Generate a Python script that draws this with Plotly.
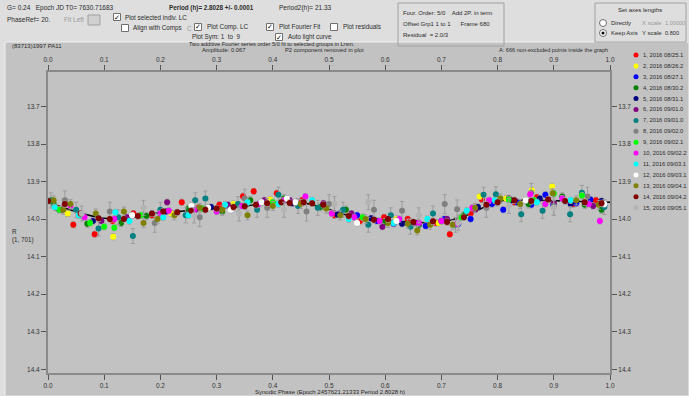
import plotly.graph_objects as go

W, H = 689, 396

# ---------------- data ----------------
series_names = ["1, 2016 08/25.1", "2, 2016 08/26.2", "3, 2016 08/27.1", "4, 2016 08/30.2",
                "5, 2016 08/31.1", "6, 2016 09/01.0", "7, 2016 09/01.0", "8, 2016 09/02.0",
                "9, 2016 09/02.1", "10, 2016 09/02.2", "11, 2016 09/03.1", "12, 2016 09/03.1",
                "13, 2016 09/04.1", "14, 2016 09/04.2", "15, 2016 09/05.1"]
series_colors = ["#ff0000", "#ffff00", "#0000ff", "#008000", "#000080", "#800080", "#008080",
                 "#808080", "#00ff00", "#ff00ff", "#00ffff", "#ffffff", "#808000", "#800000",
                 "#b4b4b4"]
series_err = [0.008, 0.008, 0.008, 0.010, 0.008, 0.008, 0.020, 0.025, 0.008, 0.008, 0.008,
              0.008, 0.012, 0.008, 0.020]

phase_1 = [0.015, 0.045, 0.083, 0.115, 0.152, 0.185, 0.238, 0.268, 0.305, 0.347, 0.366, 0.407,
           0.452, 0.51, 0.555, 0.598, 0.64, 0.69, 0.715, 0.752, 0.772, 0.83, 0.87, 0.935, 0.975]
mag_1 = [13.970, 14.015, 14.040, 14.005, 13.985, 13.990, 13.955, 13.970, 13.962, 13.939, 13.926,
         13.931, 13.950, 13.990, 14.005, 13.995, 14.000, 14.010, 14.040, 13.985, 13.948, 13.955,
         13.942, 13.960, 13.950]

phase_2 = [0.035, 0.116, 0.22, 0.33, 0.395, 0.47, 0.56, 0.62, 0.695, 0.768, 0.815, 0.861, 0.897, 0.96]
mag_2 = [13.985, 14.047, 13.985, 13.960, 13.948, 13.957, 13.995, 14.000, 14.010, 13.940, 13.945,
         13.923, 13.913, 13.945]

phase_3 = [0.52, 0.55, 0.585, 0.615, 0.65, 0.672, 0.705, 0.73, 0.752, 0.79, 0.81, 0.835, 0.86,
           0.885, 0.899, 0.94, 0.965, 0.99, 0.02]
mag_3 = [13.985, 13.990, 14.005, 14.012, 14.010, 14.018, 14.000, 14.012, 14.000, 13.960, 13.975,
         13.955, 13.962, 13.935, 13.962, 13.958, 13.948, 13.962, 13.975]

phase_4 = [0.01, 0.07, 0.13, 0.175, 0.25, 0.31, 0.36, 0.42, 0.485, 0.53, 0.6, 0.66, 0.74, 0.8,
           0.855, 0.915, 0.955, 0.985]
mag_4 = [13.960, 14.012, 14.010, 13.992, 13.972, 13.980, 13.950, 13.945, 13.968, 13.975, 14.008,
         14.015, 13.990, 13.955, 13.960, 13.940, 13.962, 13.975]

phase_5 = [0.08, 0.21, 0.29, 0.435, 0.515, 0.575, 0.63, 0.7, 0.765, 0.825, 0.875, 0.93, 0.985]
mag_5 = [14.005, 13.980, 13.968, 13.958, 13.988, 13.998, 14.012, 14.005, 13.968, 13.950, 13.945,
         13.960, 13.952]

phase_6 = [0.025, 0.06, 0.095, 0.14, 0.212, 0.262, 0.32, 0.385, 0.43, 0.49, 0.54, 0.595, 0.655,
           0.71, 0.76, 0.82, 0.9, 0.97]
mag_6 = [13.975, 13.990, 14.005, 13.995, 13.955, 13.975, 13.962, 13.950, 13.950, 13.958, 13.985,
         14.020, 14.010, 14.000, 13.975, 13.945, 13.958, 13.965]

phase_7 = [0.005, 0.05, 0.09, 0.125, 0.151, 0.2, 0.245, 0.262, 0.28, 0.338, 0.372, 0.41, 0.445,
           0.48, 0.525, 0.57, 0.61, 0.645, 0.685, 0.725, 0.775, 0.797, 0.842, 0.88, 0.929, 0.95, 0.99]
mag_7 = [13.950, 13.975, 14.025, 13.995, 14.045, 13.975, 13.990, 13.950, 13.945, 13.960, 13.975,
         13.935, 13.965, 13.970, 13.975, 14.015, 13.990, 14.020, 13.985, 14.015, 13.935, 13.934,
         13.987, 13.978, 13.987, 13.930, 13.968]

phase_8 = [0.03, 0.11, 0.19, 0.27, 0.35, 0.39, 0.46, 0.5, 0.58, 0.63, 0.706, 0.728, 0.78, 0.86,
           0.9, 0.96]
mag_8 = [13.950, 13.980, 14.010, 13.995, 13.945, 13.970, 13.980, 13.960, 13.975, 13.978, 13.960,
         13.974, 13.970, 13.930, 13.965, 13.940]

phase_9 = [0.02, 0.075, 0.1, 0.118, 0.165, 0.275, 0.4, 0.56, 0.735, 0.82, 0.865, 0.9, 0.95]
mag_9 = [13.975, 14.010, 14.020, 14.023, 13.990, 13.972, 13.955, 13.995, 13.995, 13.948, 13.950,
         13.932, 13.937]

phase_10 = [0.04, 0.065, 0.118, 0.2, 0.215, 0.26, 0.3, 0.345, 0.375, 0.42, 0.458, 0.505, 0.545,
            0.59, 0.625, 0.66, 0.7, 0.728, 0.755, 0.785, 0.858, 0.885, 0.915, 0.962, 0.982]
mag_10 = [13.965, 13.995, 14.000, 13.985, 13.978, 13.975, 13.980, 13.965, 13.960, 13.950, 13.940,
          13.985, 13.995, 14.005, 14.000, 14.010, 14.005, 14.012, 13.970, 13.950, 13.934, 13.960,
          13.945, 13.960, 14.005]

phase_11 = [0.012, 0.055, 0.12, 0.145, 0.205, 0.25, 0.315, 0.355, 0.41, 0.47, 0.535, 0.615, 0.675,
            0.745, 0.795, 0.87, 0.93]
mag_11 = [13.968, 13.990, 13.982, 14.005, 13.995, 13.990, 13.962, 13.955, 13.960, 13.950, 14.000,
          14.010, 14.000, 13.978, 13.950, 13.955, 13.950]

phase_12 = [0.15, 0.255, 0.285, 0.325, 0.38, 0.425, 0.44, 0.55, 0.62, 0.85, 0.99]
mag_12 = [13.990, 13.965, 13.970, 13.975, 13.955, 13.945, 13.955, 14.010, 14.005, 13.950, 13.960]

phase_13 = [0.01, 0.027, 0.04, 0.085, 0.135, 0.17, 0.195, 0.225, 0.27, 0.31, 0.355, 0.4, 0.45,
            0.495, 0.52, 0.565, 0.605, 0.64, 0.657, 0.68, 0.72, 0.76, 0.805, 0.84, 0.898, 0.94, 0.98]
mag_13 = [13.950, 13.975, 13.960, 13.985, 13.980, 14.010, 14.000, 13.990, 13.970, 13.975, 13.990,
          13.965, 13.960, 13.972, 13.990, 14.000, 14.010, 14.012, 14.030, 14.015, 14.015, 13.970,
          13.945, 13.960, 13.931, 13.950, 13.962]

phase_14 = [0.0, 0.03, 0.058, 0.09, 0.11, 0.135, 0.16, 0.185, 0.205, 0.23, 0.255, 0.28, 0.3, 0.33,
            0.35, 0.37, 0.39, 0.415, 0.43, 0.455, 0.47, 0.49, 0.535, 0.58, 0.605, 0.65, 0.685,
            0.71, 0.74, 0.78, 0.8, 0.83, 0.86, 0.89, 0.92, 0.955, 0.985]
mag_14 = [13.952, 13.960, 13.985, 13.998, 14.000, 14.000, 13.992, 13.985, 13.980, 13.982, 13.978,
          13.975, 13.972, 13.968, 13.966, 13.962, 13.958, 13.955, 13.957, 13.955, 13.958, 13.962,
          13.992, 14.002, 14.000, 14.008, 14.006, 14.008, 13.995, 13.962, 13.955, 13.950, 13.952,
          13.948, 13.952, 13.955, 13.958]

phase_15 = [0.06, 0.17, 0.26, 0.34, 0.42, 0.51, 0.57, 0.66, 0.73, 0.82, 0.9]
mag_15 = [13.985, 13.970, 13.990, 13.985, 13.975, 13.960, 13.955, 13.990, 14.010, 13.965, 13.970]

series_phase = [phase_1, phase_2, phase_3, phase_4, phase_5, phase_6, phase_7, phase_8,
                phase_9, phase_10, phase_11, phase_12, phase_13, phase_14, phase_15]
series_mag = [mag_1, mag_2, mag_3, mag_4, mag_5, mag_6, mag_7, mag_8,
              mag_9, mag_10, mag_11, mag_12, mag_13, mag_14, mag_15]

fit_phase = [0.00, 0.05, 0.10, 0.15, 0.20, 0.25, 0.30, 0.35, 0.40, 0.45, 0.50,
             0.55, 0.60, 0.65, 0.70, 0.75, 0.80, 0.85, 0.90, 0.95, 1.00]
fit_mag = [13.955, 13.980, 13.998, 13.995, 13.983, 13.978, 13.972, 13.965, 13.956, 13.956, 13.974,
           13.997, 14.004, 14.008, 14.008, 13.987, 13.953, 13.949, 13.951, 13.953, 13.955]

x_ticks = [0.0, 0.1, 0.2, 0.3, 0.4, 0.5, 0.6, 0.7, 0.8, 0.9, 1.0]
y_ticks = [13.7, 13.8, 13.9, 14.0, 14.1, 14.2, 14.3, 14.4]

# ---------------- layout helpers ----------------
X0, X1, Y0, Y1 = 48, 610, 72, 373
MAG_TOP, MAG_BOT = 13.608, 14.41
FONT = "Liberation Sans, Arial, sans-serif"
TXT = "#2a2a2a"
GREY_TXT = "#9a9a9a"


def fx(x):
    return x / W


def fy(y):
    return 1 - y / H


annotations = []
shapes = []


def txt(x, y, s, size=6, color=TXT, anchor="left"):
    annotations.append(dict(x=fx(x), y=fy(y), xref="paper", yref="paper", text=s,
                            showarrow=False, xanchor=anchor, yanchor="middle",
                            font=dict(family=FONT, size=size, color=color)))


def rect(x0, y0, x1, y1, fill=None, line="#9a9a9a", lw=1, layer="above"):
    shapes.append(dict(type="rect", xref="paper", yref="paper", x0=fx(x0), y0=fy(y0),
                       x1=fx(x1), y1=fy(y1), fillcolor=fill if fill else "rgba(0,0,0,0)",
                       line=dict(color=line, width=lw), layer=layer))


def checkbox(x, y, checked=True):
    rect(x - 3.5, y - 3.5, x + 3.5, y + 3.5, fill="#ffffff", line="#707070")
    if checked:
        txt(x, y, "✓", size=7, color="#000000", anchor="center")


def radio(x, y, checked=False):
    shapes.append(dict(type="circle", xref="paper", yref="paper", x0=fx(x - 3.5), y0=fy(y - 3.5),
                       x1=fx(x + 3.5), y1=fy(y + 3.5), fillcolor="#ffffff",
                       line=dict(color="#707070", width=1)))
    if checked:
        shapes.append(dict(type="circle", xref="paper", yref="paper", x0=fx(x - 1.5),
                           y0=fy(y - 1.5), x1=fx(x + 1.5), y1=fy(y + 1.5), fillcolor="#000000",
                           line=dict(width=0)))


# panel backgrounds
rect(5, 42, 689, 396, fill="#c2c2c2", line="#f0f0f0", lw=1, layer="below")

# ---- top control area ----
txt(5, 8, "G= 0.24   Epoch JD T0= 7630.71683", size=6.5)
txt(167, 8, "<b>Period (h)= 2.8028 +/- 0.0001</b>", size=6.3)
txt(277, 8, "Period2(h)= 21.33", size=6.5)
txt(5, 20, "PhaseRef= 20.", size=6.5)
txt(62, 20, "Fit Left", size=6.5, color=GREY_TXT)
rect(88, 15, 100, 25, fill="#d0d0d0", line="#a0a0a0")
checkbox(117, 17, True)
txt(123, 17, "Plot selected indiv. LC", size=6.3)
checkbox(125, 28, False)
txt(131, 28, "Align with Comps", size=6.3)
txt(185, 28, "C", size=6.3, color=GREY_TXT)
checkbox(198, 27, True)
txt(205, 27, "Plot Comp. LC", size=6.3)
txt(190, 37, "Plot Sym: 1  to  9", size=6.3)
checkbox(270, 27, True)
txt(277, 27, "Plot Fourier Fit", size=6.3)
checkbox(279, 37, True)
txt(286, 37, "Auto light curve", size=6.3)
checkbox(334, 27, False)
txt(341, 27, "Plot residuals", size=6.3)

rect(398, 3, 504, 46, line="#a0a0a0")
txt(401, 13, "Four. Order: 5/0    Add 2P. in term", size=6)
txt(401, 24, "Offset Grp1 1 to 1      Frame 680", size=6)
txt(401, 35, "Residual  = 2.0/3", size=6)

rect(595, 3, 686, 42, line="#a0a0a0")
txt(640, 10, "Set axes lengths", size=6, anchor="center")
radio(603, 23, False)
txt(609, 23, "Directly", size=6)
txt(640, 23, "X scale", size=6, color=GREY_TXT)
txt(663, 23, "1.00000", size=5.6, color=GREY_TXT)
radio(603, 33, True)
txt(609, 33, "Keep Axis", size=6)
txt(640, 33, "Y scale", size=6)
txt(663, 33, "0.800", size=5.6)

# ---- plot panel texts ----
txt(10, 46, "(83713)1997 PA11", size=6)
txt(187, 44.5, "Two additive Fourier series order 5/0 fit to selected groups in Lrsm.", size=5.6)
txt(200, 50, "Amplitude: 0.067", size=5.8)
txt(283, 50, "P2 component removed in plot", size=5.8)
txt(497, 50, "A: 666 non-excluded points inside the graph", size=5.6)
txt(10, 231, "R", size=6.3)
txt(10, 240, "(1, 701)", size=6.3)
txt(330, 392, "Synodic Phase (Epoch 2457621.21333 Period 2.8028 h)", size=6, anchor="center")

# ---- legend (drawn manually) ----
for i, (name, col) in enumerate(zip(series_names, series_colors)):
    yy = 55 + i * 10.9
    shapes.append(dict(type="circle", xref="paper", yref="paper", x0=fx(633.5), y0=fy(yy - 2.5),
                       x1=fx(638.5), y1=fy(yy + 2.5), fillcolor=col, line=dict(width=0)))
    txt(641, yy, name, size=5.8)

# ---------------- figure ----------------
fig = go.Figure()
fig.add_trace(go.Scatter(x=fit_phase, y=fit_mag, mode="lines",
                         line=dict(color="#000000", width=1.5, shape="spline", smoothing=1.0),
                         hoverinfo="skip", showlegend=False))
for ph, mg, col, err in zip(series_phase, series_mag, series_colors, series_err):
    fig.add_trace(go.Scatter(x=ph, y=mg, mode="markers",
                             marker=dict(color=col, size=6, line=dict(width=0)),
                             error_y=dict(type="constant", value=err, color="#9c9c9c",
                                          thickness=1, width=2),
                             showlegend=False))
# invisible trace so the bottom / right axes are drawn
fig.add_trace(go.Scatter(x=fit_phase, y=fit_mag, xaxis="x2", yaxis="y2", mode="lines",
                         line=dict(width=0), opacity=0, hoverinfo="skip", showlegend=False))

axis_common = dict(showline=True, linecolor="#8a8a8a", linewidth=2, ticks="outside",
                   ticklen=5, tickwidth=1, tickcolor="#555555", showgrid=False, zeroline=False,
                   tickfont=dict(family=FONT, size=6.5, color="#333333"), automargin=False)

fig.update_layout(
    width=W, height=H,
    margin=dict(l=0, r=0, t=0, b=0),
    paper_bgcolor="#dedede",
    plot_bgcolor="#c2c2c2",
    showlegend=False,
    xaxis=dict(domain=[fx(X0), fx(X1)], range=[0, 1], side="top", anchor="y",
               tickvals=x_ticks, ticktext=[f"{v:.1f}" for v in x_ticks], **axis_common),
    xaxis2=dict(domain=[fx(X0), fx(X1)], range=[0, 1], side="bottom", anchor="y2",
                overlaying="x", tickvals=x_ticks, ticktext=[f"{v:.1f}" for v in x_ticks],
                **axis_common),
    yaxis=dict(domain=[fy(Y1), fy(Y0)], range=[MAG_BOT, MAG_TOP], side="left", anchor="x",
               tickvals=y_ticks, ticktext=[f"{v:.1f}" for v in y_ticks], **axis_common),
    yaxis2=dict(domain=[fy(Y1), fy(Y0)], range=[MAG_BOT, MAG_TOP], side="right", anchor="x2",
                overlaying="y", tickvals=y_ticks, ticktext=[f"{v:.1f}" for v in y_ticks],
                **axis_common),
    annotations=annotations,
    shapes=shapes,
)

fig.write_html("out.html", config={"displayModeBar": False},
               post_script="document.body.style.margin='0';document.body.style.overflow='hidden';")
